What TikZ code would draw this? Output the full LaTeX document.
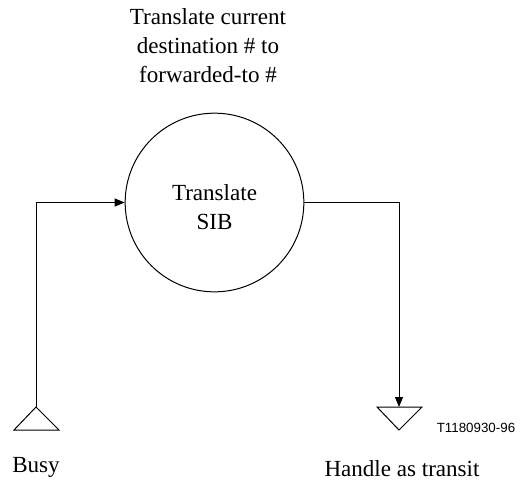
\documentclass[tikz,border=0pt]{standalone}
\usepackage{fontspec}
\setmainfont{Liberation Serif}
\newfontfamily\labelsans{Liberation Sans}
\usetikzlibrary{arrows.meta}

\tikzset{every picture/.style={line width=0.75pt}}
\tikzset{
  sibtext/.style={font=\fontsize{17.3}{21.7}\selectfont, align=center, inner sep=0pt},
  flow/.style={-{Triangle[length=7.5pt,width=6pt]}},
}

\begin{document}
\begin{tikzpicture}[x=0.75pt,y=0.75pt,yscale=-1,xscale=1]
		\useasboundingbox (0,0) rectangle (530,486);

		%SIB circle
		\node [draw, circle, minimum size=134pt, inner sep=0pt] (sib) at (214.5,202.5) {};
		\node [sibtext] (sibname) at (214.5,207.5) {Translate\\SIB};
		\node [sibtext] (note) at (208,46) {Translate current\\destination \# to\\forwarded-to \#};

		%start and end points
		\coordinate (busy) at (36,407);
		\coordinate (transit) at (399,407);
		\draw (busy) -- (14,430) -- (59,430) -- cycle;
		\draw (377,407) -- (422,407) -- (399,430) -- cycle;

		\draw [flow] (busy) |- (sib.west);
		\draw [flow] (sib.east) -| (transit);

		\node [sibtext] (busylbl) at (36,467) {Busy};
		\node [sibtext] (transitlbl) at (402,469) {Handle as transit};
		\node [font=\labelsans\fontsize{10}{12}\selectfont, inner sep=0pt] (fig) at (476,428) {T1180930-96};

		\end{tikzpicture}
\end{document}
